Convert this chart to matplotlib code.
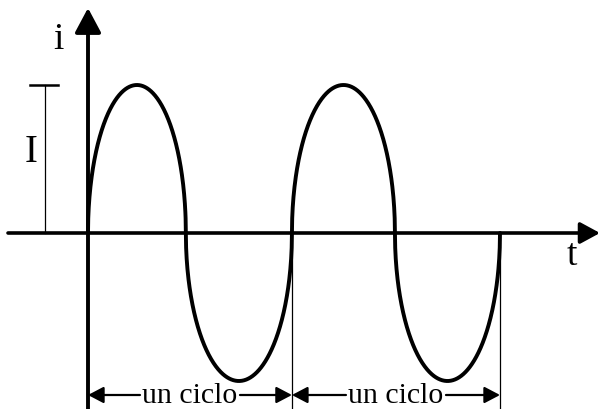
import numpy as np
import matplotlib
matplotlib.use("Agg")
import matplotlib.pyplot as plt

# --- data ---
zero_crossings = [0.0, 0.95, 1.98, 2.98, 4.0]   # t where the wave crosses zero
half_signs = [1, -1, 1, -1]                      # polarity of each half cycle
amplitude = 1.0                                  # I
cycle_bounds = [0.0, 1.98, 4.0]                  # "un ciclo" spans
cycle_label = "un ciclo"
y_label = "i"
x_label = "t"
amp_label = "I"

# pixel-based layout
W, H = 600, 409
px_t = 103.0   # pixels per time unit
px_y = 148.0   # pixels per amplitude unit
x0_px, y0_px = 88, 233

def X(px):
    return (px - x0_px) / px_t

def Y(py):
    return (y0_px - py) / px_y

fig = plt.figure(figsize=(6.0, 4.09), dpi=100)
ax = fig.add_axes([0, 0, 1, 1])
ax.set_xlim(X(0), X(W))
ax.set_ylim(Y(H), Y(0))
ax.axis("off")

serif = ["Liberation Serif", "DejaVu Serif"]

# waveform: semi-elliptic half cycles
for a, b, s in zip(zero_crossings[:-1], zero_crossings[1:], half_signs):
    tt = np.linspace(a, b, 400)
    u = 2 * (tt - a) / (b - a) - 1
    yy = s * amplitude * np.sqrt(np.clip(1 - u ** 2, 0, None))
    ax.plot(tt, yy, color="black", lw=2.8, solid_capstyle="round", zorder=3)

# horizontal axis with arrow
ax.annotate("", xy=(X(600), 0), xytext=(X(8), 0),
            arrowprops=dict(arrowstyle="-|>,head_length=1.2,head_width=0.65",
                            color="black", lw=2.6, shrinkA=0, shrinkB=0))
# vertical axis with arrow
ax.annotate("", xy=(0, Y(8)), xytext=(0, Y(H)),
            arrowprops=dict(arrowstyle="-|>,head_length=1.5,head_width=0.8",
                            color="black", lw=2.8, shrinkA=0, shrinkB=0))

# axis labels
ax.text(X(58), Y(40), y_label, fontsize=27, family=serif, ha="center", va="center")
ax.text(X(572), Y(256), x_label, fontsize=27, family=serif, ha="center", va="center")

# amplitude marker
ax.plot([X(30), X(58)], [amplitude, amplitude], color="black", lw=1.8)
ax.plot([X(45), X(45)], [amplitude, 0], color="black", lw=0.9)
ax.text(X(31), Y(153), amp_label, fontsize=28, family=serif, ha="center", va="center")

# cycle markers
y_arr = Y(395)
for b in cycle_bounds[1:]:
    ax.plot([b, b], [0, Y(H)], color="black", lw=0.9)

for a, b in zip(cycle_bounds[:-1], cycle_bounds[1:]):
    mid = (a + b) / 2
    ax.text(mid, Y(396), cycle_label, fontsize=21.5, family=serif,
            ha="center", va="center", zorder=4)
    half_txt = 48 / px_t
    ax.annotate("", xy=(a, y_arr), xytext=(mid - half_txt - 2 / px_t, y_arr),
                arrowprops=dict(arrowstyle="-|>,head_length=0.95,head_width=0.5",
                                color="black", lw=1.6, shrinkA=0, shrinkB=0))
    ax.annotate("", xy=(b, y_arr), xytext=(mid + half_txt + 2 / px_t, y_arr),
                arrowprops=dict(arrowstyle="-|>,head_length=0.95,head_width=0.5",
                                color="black", lw=1.6, shrinkA=0, shrinkB=0))

fig.savefig("out.png", dpi=100, facecolor="white")
